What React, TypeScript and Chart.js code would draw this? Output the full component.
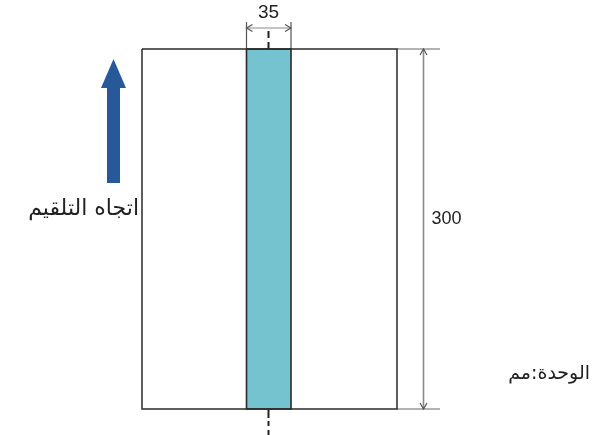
import React, { useEffect, useRef } from 'react';
import { Chart, registerables } from 'chart.js';

Chart.register(...registerables);

// Diagram geometry (diagram units = canvas pixels)
const pageX = [142, 397];
const pageY = [49, 409];
const stripX = [246.5, 291];
const centerX = 268.5;
const centerTopY = [31, 49];
const centerBottomY = [409, 435];
const topDimY = 28;
const topExtY = 22;
const rightDimX = 423.5;
const rightExtX = 440;
const feedArrowX = 113.5;
const feedArrowY = [59, 88, 183]; // tip, head base, tail
const feedArrowHalf = [12.5, 6.5]; // head half width, shaft half width

// Labels
const widthLabel = '35';
const heightLabel = '300';
const feedLabel = 'اتجاه التلقيم';
const unitLabel = 'الوحدة:مم';

const seg = (pts: { x: number; y: number }[], color: string, width: number, dash: number[] = []) => ({
  data: pts,
  showLine: true,
  borderColor: color,
  borderWidth: width,
  borderDash: dash,
  pointRadius: 0,
  fill: false,
  tension: 0,
});

export default function App() {
  const ref = useRef<HTMLCanvasElement | null>(null);
  useEffect(() => {
    document.body.style.margin = '0';
    const canvas = ref.current!;
    const rect = [
      { x: pageX[0], y: pageY[0] },
      { x: pageX[1], y: pageY[0] },
      { x: pageX[1], y: pageY[1] },
      { x: pageX[0], y: pageY[1] },
      { x: pageX[0], y: pageY[0] },
    ];
    const strip = [
      { x: stripX[0], y: pageY[0] },
      { x: stripX[1], y: pageY[0] },
      { x: stripX[1], y: pageY[1] },
      { x: stripX[0], y: pageY[1] },
      { x: stripX[0], y: pageY[0] },
    ];
    const stripDs: any = { ...seg(strip, '#2a2a2a', 1.6), fill: 'shape', backgroundColor: '#74c3cf' };
    const grey = '#8a8a8a';
    const datasets: any[] = [
      seg(rect, '#2a2a2a', 1.5),
      stripDs,
      seg([{ x: stripX[0], y: topExtY }, { x: stripX[0], y: pageY[0] }], '#555', 1.2),
      seg([{ x: stripX[1], y: topExtY }, { x: stripX[1], y: pageY[0] }], '#555', 1.2),
      seg([{ x: stripX[0], y: topDimY }, { x: stripX[1], y: topDimY }], grey, 1.2),
      seg([{ x: pageX[1], y: pageY[0] }, { x: rightExtX, y: pageY[0] }], '#666', 1.2),
      seg([{ x: pageX[1], y: pageY[1] }, { x: rightExtX, y: pageY[1] }], '#666', 1.2),
      seg([{ x: rightDimX, y: pageY[0] }, { x: rightDimX, y: pageY[1] }], grey, 1.6),
      seg([{ x: centerX, y: centerTopY[0] }, { x: centerX, y: centerTopY[1] }], '#222', 2, [7, 4]),
      seg([{ x: centerX, y: centerBottomY[0] }, { x: centerX, y: centerBottomY[1] }], '#222', 2, [9, 3, 5, 4]),
    ];

    const overlay = {
      id: 'overlay',
      afterDatasetsDraw(chart: any) {
        const ctx = chart.ctx;
        const xs = chart.scales.x;
        const ys = chart.scales.y;
        const px = (v: number) => xs.getPixelForValue(v);
        const py = (v: number) => ys.getPixelForValue(v);
        ctx.save();
        const chevron = (x: number, y: number, dx: number, dy: number) => {
          const L = 6, W = 3.5;
          const bx = x - dx * L, by = y - dy * L;
          const nx = -dy, ny = dx;
          ctx.beginPath();
          ctx.moveTo(bx + nx * W, by + ny * W);
          ctx.lineTo(x, y);
          ctx.lineTo(bx - nx * W, by - ny * W);
          ctx.strokeStyle = '#555';
          ctx.lineWidth = 1.2;
          ctx.stroke();
        };
        chevron(px(stripX[0]), py(topDimY), -1, 0);
        chevron(px(stripX[1]), py(topDimY), 1, 0);
        chevron(px(rightDimX), py(pageY[0]), 0, -1);
        chevron(px(rightDimX), py(pageY[1]), 0, 1);

        const ax = px(feedArrowX);
        const tip = py(feedArrowY[0]);
        const hb = py(feedArrowY[1]);
        const tail = py(feedArrowY[2]);
        const hh = feedArrowHalf[0], sh = feedArrowHalf[1];
        ctx.beginPath();
        ctx.moveTo(ax, tip);
        ctx.lineTo(ax + hh, hb);
        ctx.lineTo(ax + sh, hb);
        ctx.lineTo(ax + sh, tail);
        ctx.lineTo(ax - sh, tail);
        ctx.lineTo(ax - sh, hb);
        ctx.lineTo(ax - hh, hb);
        ctx.closePath();
        ctx.fillStyle = '#27589a';
        ctx.fill();

        ctx.fillStyle = '#222';
        ctx.textBaseline = 'middle';
        ctx.font = '19px "Liberation Sans", Arial, sans-serif';
        ctx.textAlign = 'center';
        ctx.fillText(widthLabel, px(centerX), py(13));
        ctx.font = '18px "Liberation Sans", Arial, sans-serif';
        ctx.textAlign = 'left';
        ctx.fillText(heightLabel, px(431.5), py(219));
        ctx.font = '22px "DejaVu Sans", sans-serif';
        ctx.textAlign = 'right';
        ctx.fillText(feedLabel, px(139), py(209));
        ctx.font = '19px "DejaVu Sans", sans-serif';
        ctx.fillText(unitLabel, px(590), py(374));
        ctx.restore();
      },
    };

    const chart = new Chart(canvas, {
      type: 'scatter',
      data: { datasets },
      options: {
        animation: false,
        responsive: false,
        maintainAspectRatio: false,
        layout: { padding: 0 },
        plugins: { legend: { display: false }, tooltip: { enabled: false } },
        scales: {
          x: { type: 'linear', min: 0, max: 600, display: false },
          y: { type: 'linear', min: 0, max: 435, reverse: true, display: false },
        },
      },
      plugins: [overlay],
    });
    return () => chart.destroy();
  }, []);
  return (
    <div style={{ width: 600, height: 435, background: '#fff' }}>
      <canvas ref={ref} width={600} height={435} style={{ display: 'block' }} />
    </div>
  );
}
